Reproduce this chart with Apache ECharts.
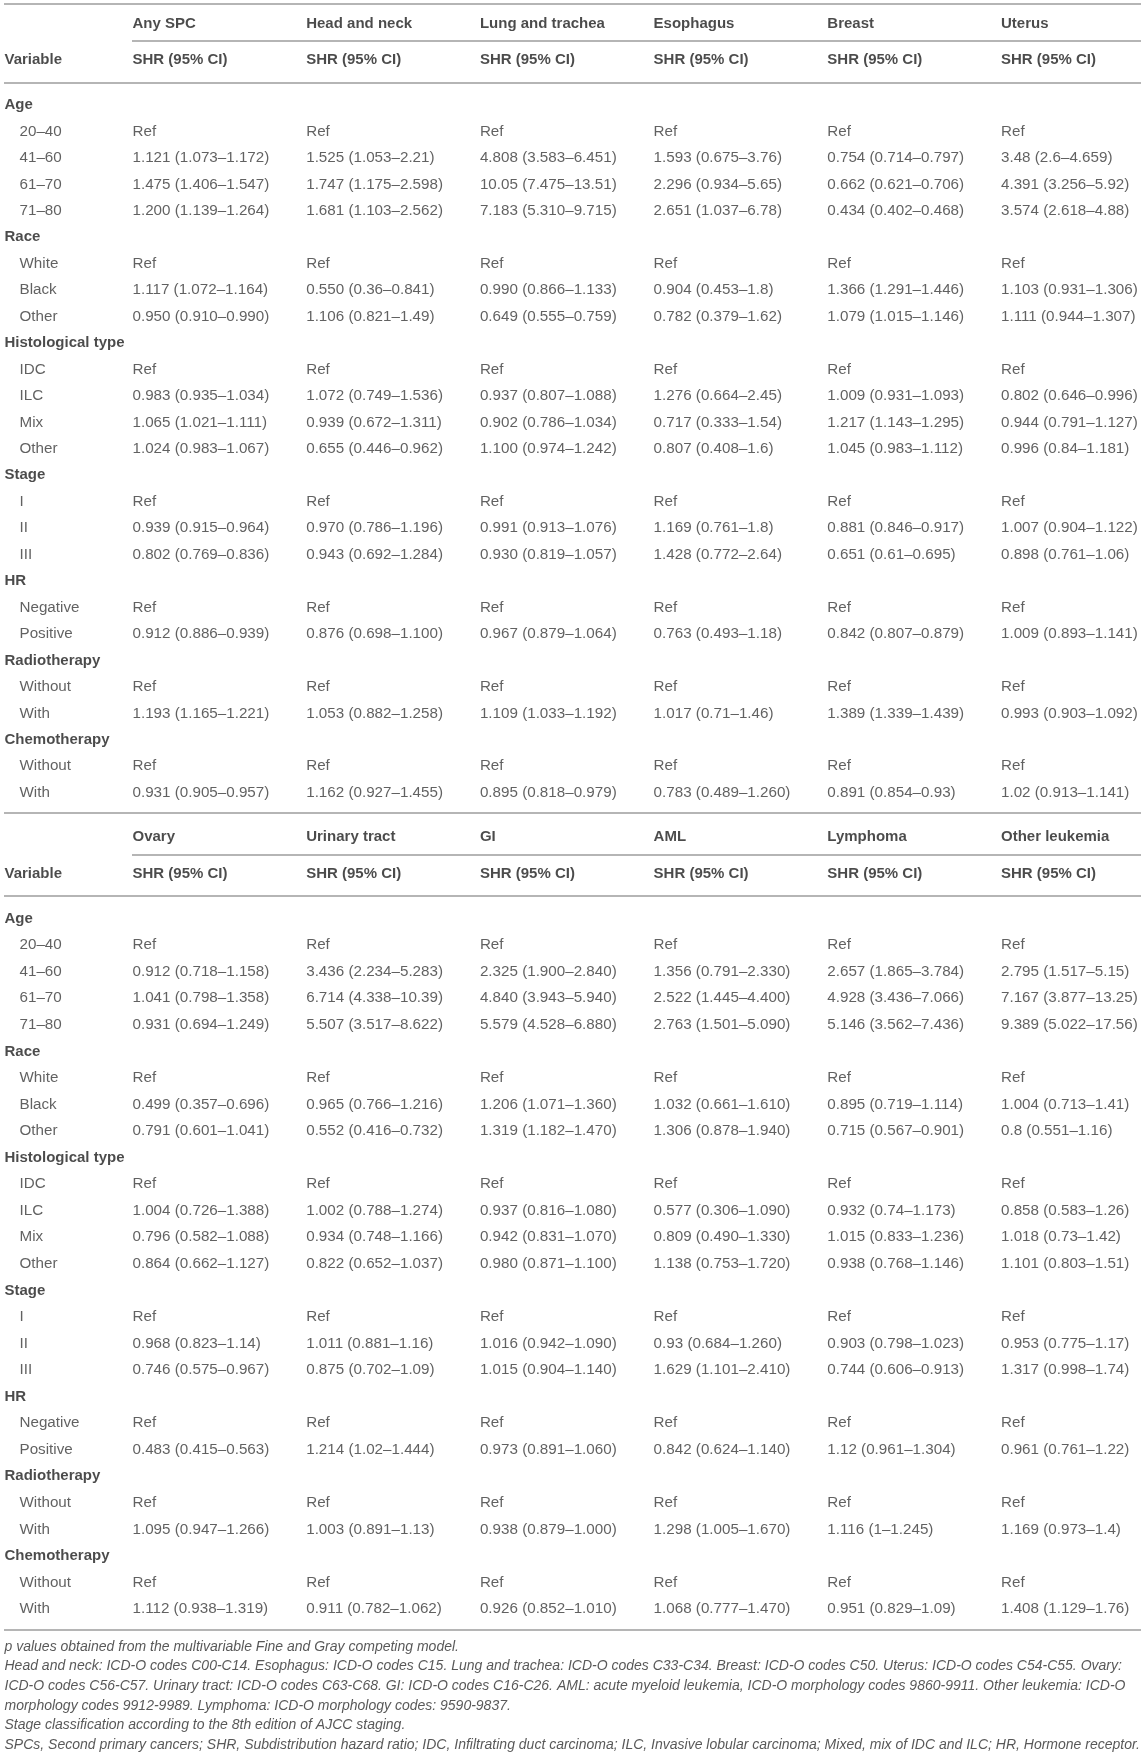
<!DOCTYPE html>
<html><head><meta charset="utf-8">
<script src="https://cdn.jsdelivr.net/npm/echarts@6/dist/echarts.min.js"></script>
<style>html,body{margin:0;padding:0;background:#fff}#c{width:1146px;height:1758px}</style>
</head><body><div id="c"></div>
<script>
// ---------------- DATA ----------------
const variableHeader = 'Variable';
const subHeader = 'SHR (95% CI)';
const groups = ['Age', 'Race', 'Histological type', 'Stage', 'HR', 'Radiotherapy', 'Chemotherapy'];
const levels = [
  ['20–40', '41–60', '61–70', '71–80'],
  ['White', 'Black', 'Other'],
  ['IDC', 'ILC', 'Mix', 'Other'],
  ['I', 'II', 'III'],
  ['Negative', 'Positive'],
  ['Without', 'With'],
  ['Without', 'With']
];
const table1Columns = ['Any SPC', 'Head and neck', 'Lung and trachea', 'Esophagus', 'Breast', 'Uterus'];
const table2Columns = ['Ovary', 'Urinary tract', 'GI', 'AML', 'Lymphoma', 'Other leukemia'];

const anySPC = ['Ref','1.121 (1.073–1.172)','1.475 (1.406–1.547)','1.200 (1.139–1.264)','Ref','1.117 (1.072–1.164)','0.950 (0.910–0.990)','Ref','0.983 (0.935–1.034)','1.065 (1.021–1.111)','1.024 (0.983–1.067)','Ref','0.939 (0.915–0.964)','0.802 (0.769–0.836)','Ref','0.912 (0.886–0.939)','Ref','1.193 (1.165–1.221)','Ref','0.931 (0.905–0.957)'];
const headNeck = ['Ref','1.525 (1.053–2.21)','1.747 (1.175–2.598)','1.681 (1.103–2.562)','Ref','0.550 (0.36–0.841)','1.106 (0.821–1.49)','Ref','1.072 (0.749–1.536)','0.939 (0.672–1.311)','0.655 (0.446–0.962)','Ref','0.970 (0.786–1.196)','0.943 (0.692–1.284)','Ref','0.876 (0.698–1.100)','Ref','1.053 (0.882–1.258)','Ref','1.162 (0.927–1.455)'];
const lungTrachea = ['Ref','4.808 (3.583–6.451)','10.05 (7.475–13.51)','7.183 (5.310–9.715)','Ref','0.990 (0.866–1.133)','0.649 (0.555–0.759)','Ref','0.937 (0.807–1.088)','0.902 (0.786–1.034)','1.100 (0.974–1.242)','Ref','0.991 (0.913–1.076)','0.930 (0.819–1.057)','Ref','0.967 (0.879–1.064)','Ref','1.109 (1.033–1.192)','Ref','0.895 (0.818–0.979)'];
const esophagus = ['Ref','1.593 (0.675–3.76)','2.296 (0.934–5.65)','2.651 (1.037–6.78)','Ref','0.904 (0.453–1.8)','0.782 (0.379–1.62)','Ref','1.276 (0.664–2.45)','0.717 (0.333–1.54)','0.807 (0.408–1.6)','Ref','1.169 (0.761–1.8)','1.428 (0.772–2.64)','Ref','0.763 (0.493–1.18)','Ref','1.017 (0.71–1.46)','Ref','0.783 (0.489–1.260)'];
const breast = ['Ref','0.754 (0.714–0.797)','0.662 (0.621–0.706)','0.434 (0.402–0.468)','Ref','1.366 (1.291–1.446)','1.079 (1.015–1.146)','Ref','1.009 (0.931–1.093)','1.217 (1.143–1.295)','1.045 (0.983–1.112)','Ref','0.881 (0.846–0.917)','0.651 (0.61–0.695)','Ref','0.842 (0.807–0.879)','Ref','1.389 (1.339–1.439)','Ref','0.891 (0.854–0.93)'];
const uterus = ['Ref','3.48 (2.6–4.659)','4.391 (3.256–5.92)','3.574 (2.618–4.88)','Ref','1.103 (0.931–1.306)','1.111 (0.944–1.307)','Ref','0.802 (0.646–0.996)','0.944 (0.791–1.127)','0.996 (0.84–1.181)','Ref','1.007 (0.904–1.122)','0.898 (0.761–1.06)','Ref','1.009 (0.893–1.141)','Ref','0.993 (0.903–1.092)','Ref','1.02 (0.913–1.141)'];

const ovary = ['Ref','0.912 (0.718–1.158)','1.041 (0.798–1.358)','0.931 (0.694–1.249)','Ref','0.499 (0.357–0.696)','0.791 (0.601–1.041)','Ref','1.004 (0.726–1.388)','0.796 (0.582–1.088)','0.864 (0.662–1.127)','Ref','0.968 (0.823–1.14)','0.746 (0.575–0.967)','Ref','0.483 (0.415–0.563)','Ref','1.095 (0.947–1.266)','Ref','1.112 (0.938–1.319)'];
const urinaryTract = ['Ref','3.436 (2.234–5.283)','6.714 (4.338–10.39)','5.507 (3.517–8.622)','Ref','0.965 (0.766–1.216)','0.552 (0.416–0.732)','Ref','1.002 (0.788–1.274)','0.934 (0.748–1.166)','0.822 (0.652–1.037)','Ref','1.011 (0.881–1.16)','0.875 (0.702–1.09)','Ref','1.214 (1.02–1.444)','Ref','1.003 (0.891–1.13)','Ref','0.911 (0.782–1.062)'];
const gi = ['Ref','2.325 (1.900–2.840)','4.840 (3.943–5.940)','5.579 (4.528–6.880)','Ref','1.206 (1.071–1.360)','1.319 (1.182–1.470)','Ref','0.937 (0.816–1.080)','0.942 (0.831–1.070)','0.980 (0.871–1.100)','Ref','1.016 (0.942–1.090)','1.015 (0.904–1.140)','Ref','0.973 (0.891–1.060)','Ref','0.938 (0.879–1.000)','Ref','0.926 (0.852–1.010)'];
const aml = ['Ref','1.356 (0.791–2.330)','2.522 (1.445–4.400)','2.763 (1.501–5.090)','Ref','1.032 (0.661–1.610)','1.306 (0.878–1.940)','Ref','0.577 (0.306–1.090)','0.809 (0.490–1.330)','1.138 (0.753–1.720)','Ref','0.93 (0.684–1.260)','1.629 (1.101–2.410)','Ref','0.842 (0.624–1.140)','Ref','1.298 (1.005–1.670)','Ref','1.068 (0.777–1.470)'];
const lymphoma = ['Ref','2.657 (1.865–3.784)','4.928 (3.436–7.066)','5.146 (3.562–7.436)','Ref','0.895 (0.719–1.114)','0.715 (0.567–0.901)','Ref','0.932 (0.74–1.173)','1.015 (0.833–1.236)','0.938 (0.768–1.146)','Ref','0.903 (0.798–1.023)','0.744 (0.606–0.913)','Ref','1.12 (0.961–1.304)','Ref','1.116 (1–1.245)','Ref','0.951 (0.829–1.09)'];
const otherLeukemia = ['Ref','2.795 (1.517–5.15)','7.167 (3.877–13.25)','9.389 (5.022–17.56)','Ref','1.004 (0.713–1.41)','0.8 (0.551–1.16)','Ref','0.858 (0.583–1.26)','1.018 (0.73–1.42)','1.101 (0.803–1.51)','Ref','0.953 (0.775–1.17)','1.317 (0.998–1.74)','Ref','0.961 (0.761–1.22)','Ref','1.169 (0.973–1.4)','Ref','1.408 (1.129–1.76)'];

const footnotes = [
  'p values obtained from the multivariable Fine and Gray competing model.',
  'Head and neck: ICD-O codes C00-C14. Esophagus: ICD-O codes C15. Lung and trachea: ICD-O codes C33-C34. Breast: ICD-O codes C50. Uterus: ICD-O codes C54-C55. Ovary:',
  'ICD-O codes C56-C57. Urinary tract: ICD-O codes C63-C68. GI: ICD-O codes C16-C26. AML: acute myeloid leukemia, ICD-O morphology codes 9860-9911. Other leukemia: ICD-O',
  'morphology codes 9912-9989. Lymphoma: ICD-O morphology codes: 9590-9837.',
  'Stage classification according to the 8th edition of AJCC staging.',
  'SPCs, Second primary cancers; SHR, Subdistribution hazard ratio; IDC, Infiltrating duct carcinoma; ILC, Invasive lobular carcinoma; Mixed, mix of IDC and ILC; HR, Hormone receptor.'
];

const tables = [
  { columns: table1Columns, values: [anySPC, headNeck, lungTrachea, esophagus, breast, uterus] },
  { columns: table2Columns, values: [ovary, urinaryTract, gi, aml, lymphoma, otherLeukemia] }
];

// ---------------- LAYOUT (axis units: x = column index, y = row index) ----------------
const W = 1146, H = 1758;
const colLeftPx = 132, colWPx = 173.7, rowTopPx = 105, rowHPx = 26.45;
const X0 = -colLeftPx / colWPx, X1 = (W - colLeftPx) / colWPx;
const Y0 = -rowTopPx / rowHPx, Y1 = (H - rowTopPx) / rowHPx;
const xVar = (4 - colLeftPx) / colWPx;
const xIndent = (19 - colLeftPx) / colWPx;
const xRight = (1141 - colLeftPx) / colWPx;
const tableBase = [0, 30.76];
const rowStep = [1, 1.004];
const dNames = -3.08, dSub = -1.70, dTopLine = -3.82, dSubLine = -2.42, dHeadLine = -0.86, dBottomLine = 26.77;
const footStart = 58.29, footStep = 0.745;

const regular = [], bold = [], italic = [], lineData = [];
tables.forEach((t, ti) => {
  const b = tableBase[ti], s = rowStep[ti];
  bold.push({ name: variableHeader, value: [xVar, b + dSub] });
  t.columns.forEach((c, ci) => {
    bold.push({ name: c, value: [ci, b + dNames] });
    bold.push({ name: subHeader, value: [ci, b + dSub] });
  });
  let r = 0, k = 0;
  groups.forEach((g, gi) => {
    bold.push({ name: g, value: [xVar, b + r * s] });
    r++;
    levels[gi].forEach(lv => {
      regular.push({ name: lv, value: [xIndent, b + r * s] });
      t.values.forEach((col, ci) => regular.push({ name: col[k], value: [ci, b + r * s] }));
      r++; k++;
    });
  });
  if (ti === 0) lineData.push({ coords: [[xVar, b + dTopLine], [xRight, b + dTopLine]] });
  lineData.push({ coords: [[0, b + dSubLine], [xRight, b + dSubLine]] });
  lineData.push({ coords: [[xVar, b + dHeadLine], [xRight, b + dHeadLine]] });
  lineData.push({ coords: [[xVar, b + dBottomLine * s], [xRight, b + dBottomLine * s]] });
});
footnotes.forEach((f, i) => italic.push({ name: f, value: [xVar, footStart + i * footStep] }));

const FONT = '"Liberation Sans", Arial, Helvetica, sans-serif';
function textSeries(data, style) {
  return {
    type: 'scatter', data, symbolSize: 1, silent: true,
    itemStyle: { color: 'rgba(0,0,0,0)' },
    label: Object.assign({ show: true, position: 'right', distance: 0, formatter: '{b}',
      fontFamily: FONT, align: 'left', verticalAlign: 'middle' }, style)
  };
}

const chart = echarts.init(document.getElementById('c'), null, { renderer: 'canvas' });
chart.setOption({
  animation: false,
  backgroundColor: '#ffffff',
  grid: { left: 0, right: 0, top: 0, bottom: 0 },
  xAxis: { type: 'value', min: X0, max: X1, show: false },
  yAxis: { type: 'value', min: Y0, max: Y1, inverse: true, show: false },
  series: [
    { type: 'lines', coordinateSystem: 'cartesian2d', silent: true, data: lineData,
      lineStyle: { color: '#b5b5b5', width: 2, opacity: 1 } },
    textSeries(regular, { fontSize: 15.2, color: '#3a3a3a' }),
    textSeries(bold, { fontSize: 15, fontWeight: 'bold', color: '#1e1e1e' }),
    textSeries(italic, { fontSize: 14, fontStyle: 'italic', color: '#2e2e2e' })
  ]
});
</script></body></html>
